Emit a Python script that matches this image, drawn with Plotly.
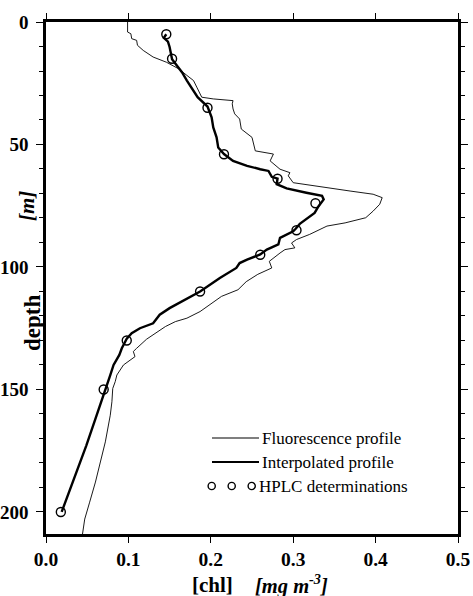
import plotly.graph_objects as go

# Fluorescence profile (thin line)
fluo_depth = [0, 4.1, 4.8, 6.8, 7.5, 9.5, 11.6, 14.3, 16.4, 19.1, 21.8, 23.9, 26.6, 30.7,
              31.4, 32.1, 33.4, 35.5, 37.5, 39.6, 43.7, 47.1, 52.6, 53.9, 56.7, 60.1, 61.5,
              62.8, 65.6, 66.9, 69.0, 70.3, 71.7, 74.4, 77.2, 79.9, 82.0, 83.3, 84.0, 86.7,
              88.8, 90.2, 92.2, 92.9, 94.3, 97.7, 100.4, 103.0, 106.0, 109.3, 112.0, 115.0,
              116.8, 118.2, 120.9, 122.3, 124.3, 127.7, 129.5, 133.2, 134.5, 136.6, 140.0,
              144.1, 146.8, 149.6, 155.0, 160.5, 166.0, 171.4, 179.6, 187.8, 196.0, 202.9, 209.7]
fluo_chl = [0.099, 0.099, 0.103, 0.104, 0.110, 0.111, 0.118, 0.130, 0.146, 0.161, 0.171, 0.179,
            0.183, 0.189, 0.203, 0.227, 0.226, 0.227, 0.229, 0.235, 0.237, 0.250, 0.254, 0.276,
            0.272, 0.284, 0.296, 0.294, 0.300, 0.329, 0.369, 0.397, 0.408, 0.405, 0.397, 0.388,
            0.363, 0.341, 0.337, 0.320, 0.304, 0.298, 0.302, 0.290, 0.284, 0.271, 0.274, 0.257,
            0.243, 0.233, 0.213, 0.200, 0.193, 0.187, 0.171, 0.157, 0.145, 0.130, 0.122, 0.110,
            0.106, 0.108, 0.094, 0.086, 0.084, 0.081, 0.080, 0.078, 0.075, 0.072, 0.066, 0.060,
            0.053, 0.047, 0.044]

# Interpolated profile (thick line)
interp_depth = [5.0, 6.5, 8.0, 10.2, 15.2, 17.7, 20.5, 23.9, 27.3, 30.7, 34.5, 38.9, 43.0, 47.1,
                51.2, 53.9, 56.7, 58.7, 60.1, 60.8, 63.2, 63.9, 66.2, 67.9, 69.7, 71.0, 72.4,
                75.1, 77.9, 79.9, 82.4, 84.4, 85.4, 88.1, 90.8, 92.9, 94.9, 97.0, 98.4, 100.4,
                104.5, 110.0, 113.0, 116.8, 119.5, 123.0, 125.0, 127.0, 129.3, 133.2, 135.9,
                140.0, 144.1, 149.8, 160.5, 172.8, 183.7, 194.7, 200.0]
interp_chl = [0.146, 0.143, 0.148, 0.150, 0.153, 0.159, 0.165, 0.171, 0.177, 0.184, 0.196, 0.201,
              0.203, 0.207, 0.209, 0.216, 0.227, 0.244, 0.260, 0.270, 0.274, 0.281, 0.280, 0.292,
              0.316, 0.335, 0.337, 0.331, 0.326, 0.318, 0.308, 0.303, 0.300, 0.284, 0.282, 0.268,
              0.260, 0.244, 0.235, 0.231, 0.211, 0.187, 0.171, 0.150, 0.138, 0.130, 0.114, 0.104,
              0.098, 0.092, 0.089, 0.082, 0.078, 0.072, 0.0615, 0.049, 0.037, 0.025, 0.019]

# HPLC determinations
hplc_depth = [5, 15, 35, 54, 64, 74, 85, 95, 110, 130, 150, 200]
hplc_chl = [0.146, 0.153, 0.196, 0.216, 0.281, 0.327, 0.304, 0.260, 0.187, 0.098, 0.070, 0.018]

x_ticks = [0.0, 0.1, 0.2, 0.3, 0.4, 0.5]
x_tick_labels = ["0.0", "0.1", "0.2", "0.3", "0.4", "0.5"]
y_ticks = [0, 50, 100, 150, 200]

legend_labels = ["Fluorescence profile", "Interpolated profile", "HPLC determinations"]

FONT = "Liberation Serif"

fig = go.Figure()
fig.add_trace(go.Scatter(x=fluo_chl, y=fluo_depth, mode="lines",
                         line=dict(color="black", width=0.9), showlegend=False))
fig.add_trace(go.Scatter(x=interp_chl, y=interp_depth, mode="lines",
                         line=dict(color="black", width=2.4), showlegend=False))
fig.add_trace(go.Scatter(x=hplc_chl, y=hplc_depth, mode="markers",
                         marker=dict(symbol="circle-open", size=9, color="black",
                                     line=dict(width=1.4, color="black")),
                         showlegend=False))

W, H = 473, 596
L, R, T, B = 46, 15, 22, 62
pw = W - L - R
ph = H - T - B


def px(xp):
    return (xp - L) / pw


def py(yp):
    return (H - B - yp) / ph


axis_common = dict(showline=True, linewidth=2.6, linecolor="black", mirror="ticks",
                   ticks="outside", tickcolor="black", tickwidth=1.3, showgrid=False,
                   zeroline=False, automargin=False)

fig.update_xaxes(range=[0, 0.5], tickvals=x_ticks, ticktext=x_tick_labels, ticklen=6,
                 tickfont=dict(family=FONT, size=19.5, color="black", weight="bold"),
                 **axis_common)
fig.update_yaxes(range=[209, 0], tickvals=y_ticks, ticklen=7, ticklabelstandoff=4,
                 tickfont=dict(family=FONT, size=19, color="black", weight="bold"),
                 minor=dict(dtick=10, ticklen=4, ticks="outside", tickwidth=1.2,
                            tickcolor="black"),
                 **axis_common)

shapes = []
annotations = []
# legend line samples
shapes.append(dict(type="line", xref="paper", yref="paper", x0=px(212), x1=px(259),
                   y0=py(438), y1=py(438), line=dict(color="black", width=1.1)))
shapes.append(dict(type="line", xref="paper", yref="paper", x0=px(212), x1=px(259),
                   y0=py(462), y1=py(462), line=dict(color="black", width=2.2)))
for cx in (211.7, 231.7, 251.7):
    shapes.append(dict(type="circle", xref="paper", yref="paper", xsizemode="pixel",
                       ysizemode="pixel", xanchor=px(cx), yanchor=py(486),
                       x0=-3.6, x1=3.6, y0=-3.6, y1=3.6,
                       line=dict(color="black", width=1.4)))
leg_pos = [(260, 438), (260, 462), (257, 486)]
for (lx, ly), txt in zip(leg_pos, legend_labels):
    annotations.append(dict(text=txt, xref="paper", yref="paper", x=px(lx), y=py(ly),
                            xanchor="left", yanchor="middle", showarrow=False,
                            font=dict(family=FONT, size=17, color="black")))

# axis titles
annotations.append(dict(text="<b>[chl]</b>", xref="paper", yref="paper", x=px(212), y=py(585),
                        xanchor="center", yanchor="middle", showarrow=False,
                        font=dict(family=FONT, size=21, color="black")))
annotations.append(dict(text="<b><i>[mg m<sup>-3</sup>]</i></b>", xref="paper", yref="paper",
                        x=px(253), y=py(584), xanchor="left", yanchor="middle",
                        showarrow=False, font=dict(family=FONT, size=20.5, color="black")))
annotations.append(dict(text="<b>depth</b>", xref="paper", yref="paper", x=px(32), y=py(323),
                        xanchor="center", yanchor="middle", textangle=-90, showarrow=False,
                        font=dict(family=FONT, size=23, color="black")))
annotations.append(dict(text="<b><i>[m]</i></b>", xref="paper", yref="paper", x=px(27),
                        y=py(206), xanchor="center", yanchor="middle", textangle=-90,
                        showarrow=False, font=dict(family=FONT, size=21, color="black")))

fig.update_layout(width=W, height=H, margin=dict(l=L, r=R, t=T, b=B, pad=0),
                  plot_bgcolor="white", paper_bgcolor="white",
                  shapes=shapes, annotations=annotations, showlegend=False)

fig.write_html("out.html", config={"displayModeBar": False},
               post_script="document.body.style.margin='0px';document.body.style.overflow='hidden';")
